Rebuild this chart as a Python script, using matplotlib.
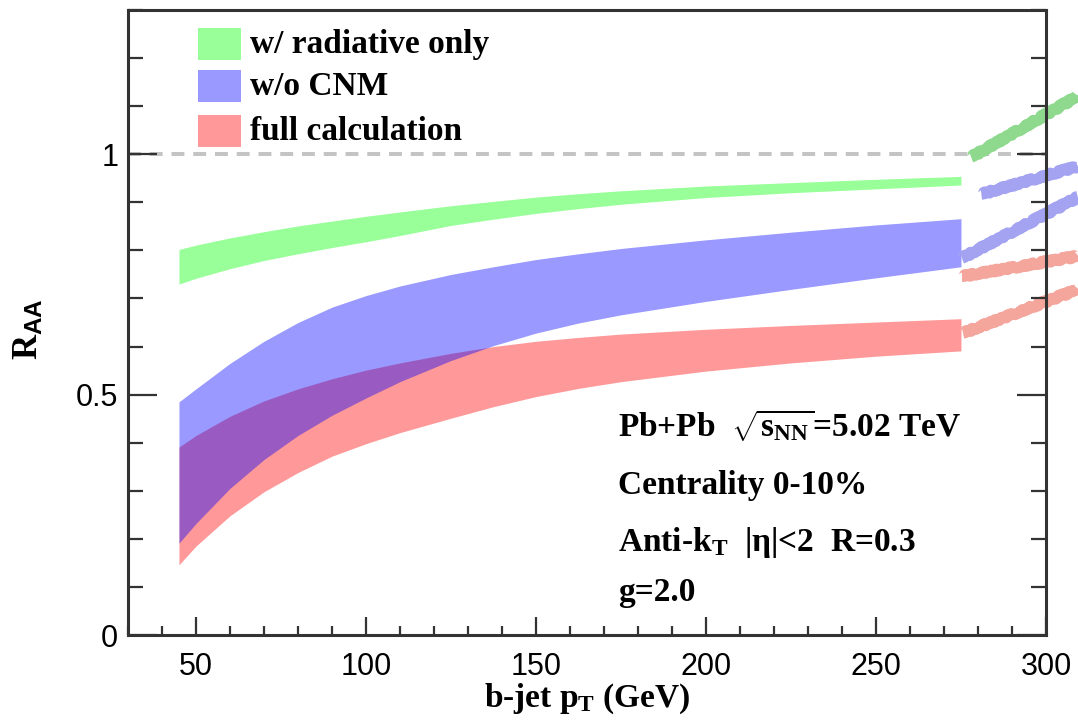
import matplotlib
matplotlib.use("Agg")
import matplotlib.pyplot as plt
from matplotlib.patches import Rectangle
from matplotlib.ticker import MultipleLocator

# b-jet pT grid (GeV) shared by the three bands
pt = [45, 50, 60, 70, 80, 90, 100, 110, 125, 137.5, 150, 162.5, 175, 200, 225, 250, 275]

# w/ radiative only
rad_hi = [0.802, 0.811, 0.826, 0.839, 0.851, 0.861, 0.871, 0.880, 0.893, 0.902, 0.911, 0.918, 0.924, 0.934, 0.941, 0.948, 0.954]
rad_lo = [0.730, 0.742, 0.762, 0.779, 0.793, 0.806, 0.818, 0.831, 0.852, 0.865, 0.877, 0.887, 0.896, 0.910, 0.920, 0.928, 0.936]

# w/o CNM
nocnm_hi = [0.485, 0.512, 0.565, 0.611, 0.650, 0.682, 0.706, 0.726, 0.750, 0.766, 0.781, 0.793, 0.804, 0.822, 0.838, 0.853, 0.866]
nocnm_lo = [0.191, 0.232, 0.305, 0.365, 0.415, 0.457, 0.493, 0.527, 0.571, 0.602, 0.628, 0.649, 0.666, 0.694, 0.719, 0.743, 0.766]

# full calculation
full_hi = [0.391, 0.415, 0.455, 0.487, 0.512, 0.533, 0.551, 0.566, 0.586, 0.600, 0.611, 0.619, 0.626, 0.636, 0.644, 0.651, 0.658]
full_lo = [0.146, 0.185, 0.248, 0.298, 0.338, 0.372, 0.398, 0.421, 0.451, 0.475, 0.496, 0.513, 0.527, 0.549, 0.566, 0.580, 0.591]

# band edges of the neighbouring panel that spill in on the right
spill_x = [[278, 309.4], [281, 309.4], [275.3, 309.4], [275.3, 309.4], [275.6, 309.4]]
spill_y = [[0.994, 1.121], [0.917, 0.975], [0.784, 0.911], [0.746, 0.788], [0.628, 0.719]]
spill_c = ["#8fd98f", "#a3a3f2", "#a3a3f2", "#f4a59c", "#f4a59c"]

labels = ["w/ radiative only", "w/o CNM", "full calculation"]
colors = [(0, 1, 0), (0, 0, 1), (1, 0, 0)]

info = [r"Pb+Pb  $\sqrt{{\rm s}_{\rm NN}}$=5.02 TeV",
        "Centrality 0-10%",
        r"Anti-k$_{\rm T}$  |η|<2  R=0.3",
        "g=2.0"]

plt.rcParams["font.family"] = "Liberation Serif"
plt.rcParams["font.weight"] = "bold"
plt.rcParams["mathtext.fontset"] = "custom"
plt.rcParams["mathtext.rm"] = "Liberation Serif:bold"
plt.rcParams["mathtext.it"] = "Liberation Serif:bold:italic"
plt.rcParams["mathtext.bf"] = "Liberation Serif:bold"
plt.rcParams["mathtext.sf"] = "Liberation Sans:bold"

fig = plt.figure(figsize=(10.78, 7.27), dpi=100)
ax = fig.add_axes([0.1187, 0.1265, 0.8516, 0.8597])

ax.fill_between(pt, rad_lo, rad_hi, color=colors[0], alpha=0.4, lw=0)
ax.fill_between(pt, full_lo, full_hi, color=colors[2], alpha=0.4, lw=0)
ax.fill_between(pt, nocnm_lo, nocnm_hi, color=colors[1], alpha=0.4, lw=0)

ax.axhline(1.0, color="#c4c4c4", lw=2.9, dashes=(3.2, 2.2), zorder=1)

for xs, ys, c in zip(spill_x, spill_y, spill_c):
    ln, = ax.plot(xs, ys, color=c, lw=8, solid_capstyle="butt", clip_on=False, zorder=1.5)
    ln.set_sketch_params(scale=1.2, length=6, randomness=8)

ax.set_xlim(30, 300)
ax.set_ylim(0, 1.3)
ax.xaxis.set_major_locator(MultipleLocator(50))
ax.xaxis.set_minor_locator(MultipleLocator(10))
ax.yaxis.set_major_locator(MultipleLocator(0.5))
ax.yaxis.set_minor_locator(MultipleLocator(0.1))
ax.set_yticks([0, 0.5, 1])
ax.set_yticklabels(["0", "0.5", "1"])

ax.tick_params(axis="both", which="both", direction="in", color="#333333", width=1.6)
ax.tick_params(axis="x", which="major", length=13, pad=12)
ax.tick_params(axis="x", which="minor", length=6.5)
ax.tick_params(axis="y", which="major", length=21, pad=7, right=True)
ax.tick_params(axis="y", which="minor", length=10.5, right=True)
for lab in ax.get_xticklabels() + ax.get_yticklabels():
    lab.set_fontfamily("Liberation Sans")
    lab.set_fontweight("normal")
    lab.set_fontsize(22)
for side in ["left", "bottom", "right", "top"]:
    ax.spines[side].set_linewidth(2.2)
    ax.spines[side].set_color("#333333")

ax.set_xlabel(r"b-jet p$_{\rm T}$ (GeV)", fontsize=24, fontweight="bold")
ax.xaxis.set_label_coords(0.5, -0.074)
ax.text(-0.107, 0.49, r"R$_{\mathsf{AA}}$", transform=ax.transAxes, rotation=90,
        ha="center", va="center", fontsize=25, fontweight="bold")

# legend drawn as boxes + labels
box_y = [0.920, 0.8528, 0.7808]
for lab, c, by in zip(labels, colors, box_y):
    ax.add_patch(Rectangle((0.0763, by), 0.0468, 0.0512, transform=ax.transAxes,
                           facecolor=c, alpha=0.4, lw=0))
    ax.text(0.1329, by + 0.0256, lab, transform=ax.transAxes, ha="left", va="center",
            fontsize=24, fontweight="bold")

info_y = [0.3184, 0.2256, 0.1344, 0.0544]
for t, yy in zip(info, info_y):
    ax.text(0.5338, yy, t, transform=ax.transAxes, ha="left", va="baseline",
            fontsize=24, fontweight="bold")

fig.savefig("out.png", dpi=100)
